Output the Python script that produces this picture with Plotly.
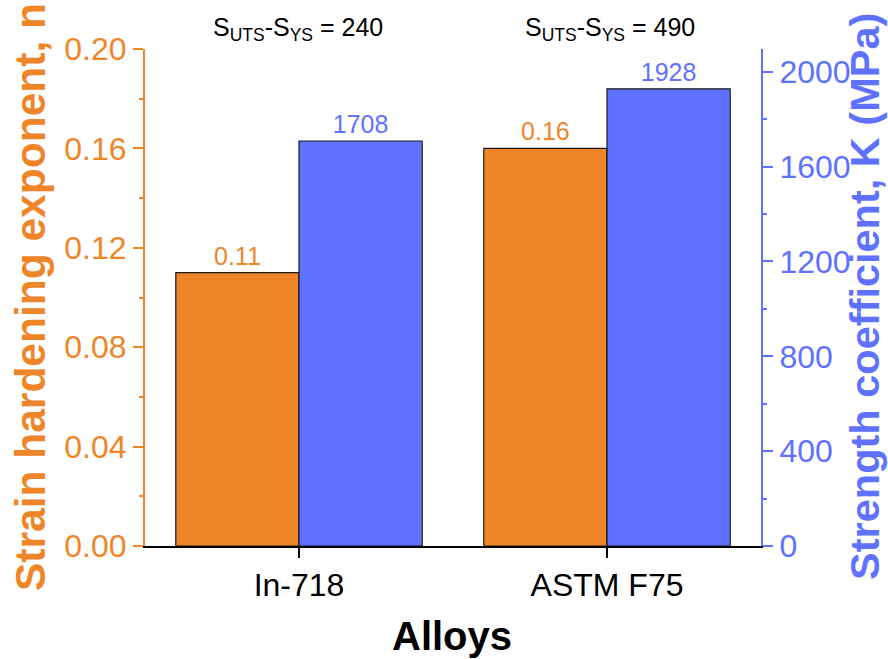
import plotly.graph_objects as go

alloys = ["In-718", "ASTM F75"]
n_values = [0.11, 0.16]
k_values = [1708, 1928]
diff_values = [240, 490]
left_ticks = [0.00, 0.04, 0.08, 0.12, 0.16, 0.20]
right_ticks = [0, 400, 800, 1200, 1600, 2000]

ORANGE = "#EF8529"
BLUE = "#5F72FF"
FONT = "Arial, Liberation Sans, sans-serif"

fig = go.Figure()
fig.add_trace(go.Bar(
    x=alloys, y=n_values, yaxis="y", width=0.4, offset=-0.4,
    marker=dict(color=ORANGE, line=dict(color="#1a1a1a", width=1.2)),
    text=[f"{v:.2f}" for v in n_values], textposition="outside",
    textfont=dict(color=ORANGE, size=25, family=FONT), cliponaxis=False,
    showlegend=False,
))
fig.add_trace(go.Bar(
    x=alloys, y=k_values, yaxis="y2", width=0.4, offset=0,
    marker=dict(color=BLUE, line=dict(color="#1a1a1a", width=1.2)),
    text=[f"{v}" for v in k_values], textposition="outside",
    textfont=dict(color=BLUE, size=25, family=FONT), cliponaxis=False,
    showlegend=False,
))

annotations = []
for i, d in enumerate(diff_values):
    annotations.append(dict(
        x=i, xref="x", y=1.04, yref="paper", xshift=3 if i else -1,
        text=f"S<sub>UTS</sub>-S<sub>YS</sub> = {d}", showarrow=False,
        font=dict(size=25, color="black", family=FONT), xanchor="center", yanchor="middle",
    ))
annotations += [
    dict(x=0.498, y=-0.181, xref="paper", yref="paper", text="<b>Alloys</b>", showarrow=False,
         font=dict(size=40, color="black", family=FONT), xanchor="center", yanchor="middle"),
    dict(x=-0.1867, y=0.501, xref="paper", yref="paper", text="<b>Strain hardening exponent, n</b>",
         showarrow=False, textangle=-90,
         font=dict(size=42.5, color=ORANGE, family=FONT), xanchor="center", yanchor="middle"),
    dict(x=1.167, y=0.503, xref="paper", yref="paper", text="<b>Strength coefficient, K (MPa)</b>",
         showarrow=False, textangle=-90,
         font=dict(size=41.5, color=BLUE, family=FONT), xanchor="center", yanchor="middle"),
]

fig.update_layout(
    width=888, height=659,
    margin=dict(l=145, r=127, t=49, b=113),
    paper_bgcolor="white", plot_bgcolor="white",
    barmode="overlay",
    font=dict(family=FONT),
    annotations=annotations,
    xaxis=dict(
        range=[-0.5, 1.5], showline=True, linecolor="black", linewidth=2,
        ticks="outside", ticklen=10, tickwidth=2, tickcolor="black",
        tickfont=dict(size=32, color="black", family=FONT), showgrid=False, zeroline=False,
    ),
    yaxis=dict(
        range=[0, 0.2], tickvals=left_ticks, tickformat=".2f",
        showline=True, linecolor=ORANGE, linewidth=2,
        ticks="outside", ticklen=10, tickwidth=2, tickcolor=ORANGE,
        minor=dict(dtick=0.02, ticks="outside", ticklen=4, tickwidth=2, tickcolor=ORANGE),
        tickfont=dict(size=32, color=ORANGE, family=FONT), showgrid=False, zeroline=False,
    ),
    yaxis2=dict(
        range=[0, 2096], tickvals=right_ticks, overlaying="y", side="right",
        showline=True, linecolor=BLUE, linewidth=2,
        ticks="outside", ticklen=10, tickwidth=2, tickcolor=BLUE,
        minor=dict(dtick=200, ticks="outside", ticklen=4, tickwidth=2, tickcolor=BLUE),
        tickfont=dict(size=32, color=BLUE, family=FONT), showgrid=False, zeroline=False,
    ),
)

fig.write_html("out.html")
